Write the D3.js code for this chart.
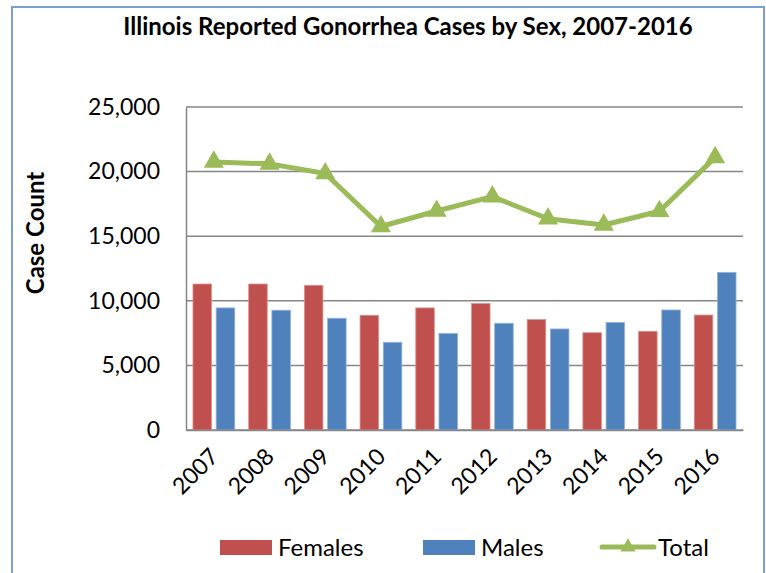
<!DOCTYPE html>
<html>
<head>
<meta charset="utf-8">
<script src="https://cdn.jsdelivr.net/npm/d3@7"></script>
<style>
  body { margin: 0; background: #fff; }
  text { font-family: Lato, "Open Sans", sans-serif; fill: #000; }
</style>
</head>
<body>
<div class="chart"></div>
<script>
// Chart data
const years = ['2007', '2008', '2009', '2010', '2011', '2012', '2013', '2014', '2015', '2016'];
const females = [11300, 11300, 11200, 8880, 9450, 9800, 8550, 7530, 7640, 8900];
const males = [9450, 9270, 8650, 6790, 7480, 8260, 7820, 8330, 9290, 12200];
const totals = [20750, 20600, 19850, 15750, 16950, 18060, 16350, 15870, 16930, 21100];
const yTicks = [0, 5000, 10000, 15000, 20000, 25000];
const seriesNames = ['Females', 'Males', 'Total'];

const colors = {Females: '#C0504D', Males: '#4F81BD', Total: '#9BBB59'};
const strokes = {Females: '#D99694', Males: '#95B3D7'};

function comboChart(selector, w, h) {

    const margin = {top: 107, right: 23, bottom: 143, left: 186},
        width = w - margin.left - margin.right,
        height = h - margin.top - margin.bottom;

    const svg = d3.select(`.${selector}`)
                .append('svg')
                    .attr('width', w)
                    .attr('height', h);

    // Outer frame
    svg.append('rect')
        .attr('x', 12).attr('y', 7)
        .attr('width', 752).attr('height', 580)
        .attr('fill', '#fff')
        .attr('stroke', '#7A9FD3')
        .attr('stroke-width', 2);

    // Title
    svg.append('text')
        .attr('x', 408).attr('y', 35)
        .attr('text-anchor', 'middle')
        .style('font-size', '24px')
        .style('font-weight', 'bold')
        .text('Illinois Reported Gonorrhea Cases by Sex, 2007-2016');

    const g = svg.append('g')
        .attr('transform', `translate(${margin.left},${margin.top})`);

    // Scales
    const x0 = d3.scaleBand().domain(years).range([0, width]);
    const x1 = d3.scaleBand().domain(['Females', 'Males'])
                .range([0, x0.bandwidth()])
                .paddingInner(0.2).paddingOuter(0.3);
    const y = d3.scaleLinear().domain([0, 25000]).range([height, 0]);

    // Gridlines
    g.append('g')
        .selectAll('line')
        .data(yTicks)
        .enter()
            .append('line')
            .attr('x1', 0).attr('x2', width)
            .attr('y1', d => y(d)).attr('y2', d => y(d))
            .attr('stroke', '#868686')
            .attr('stroke-width', 1.5);

    // Y axis
    const yAxis = g.append('g')
        .call(d3.axisLeft(y).tickValues(yTicks).tickSize(0).tickPadding(26)
                .tickFormat(d3.format(',')));
    yAxis.select('.domain').attr('stroke', '#868686').attr('stroke-width', 1.5);
    yAxis.selectAll('text')
        .style('font-size', '23px')
        .style('font-family', 'Lato, sans-serif');

    // Bars
    const rows = years.map((yr, i) => ({year: yr, Females: females[i], Males: males[i]}));
    g.append('g')
        .selectAll('g')
        .data(rows)
        .enter()
            .append('g')
            .attr('transform', d => `translate(${x0(d.year)},0)`)
            .selectAll('rect')
            .data(d => ['Females', 'Males'].map(k => ({key: k, value: d[k]})))
            .enter()
                .append('rect')
                .attr('x', d => x1(d.key))
                .attr('y', d => y(d.value))
                .attr('width', x1.bandwidth())
                .attr('height', d => height - y(d.value))
                .attr('fill', d => colors[d.key])
                .attr('stroke', d => strokes[d.key])
                .attr('stroke-width', 0.8);

    // X axis
    const xAxis = g.append('g')
        .attr('transform', `translate(0,${height})`)
        .call(d3.axisBottom(x0).tickSize(0).tickPadding(0));
    xAxis.select('.domain').attr('stroke', '#868686').attr('stroke-width', 1.5);
    xAxis.selectAll('text')
        .style('font-size', '23px')
        .style('font-family', 'Lato, sans-serif')
        .style('text-anchor', 'end')
        .attr('dy', 0)
        .attr('y', 0)
        .attr('transform', 'translate(6,28) rotate(-45)');

    // Total line
    const cx = yr => x0(yr) + x0.bandwidth() / 2;
    const line = d3.line()
        .x((d, i) => cx(years[i]))
        .y(d => y(d));
    g.append('path')
        .datum(totals)
        .attr('d', line)
        .attr('fill', 'none')
        .attr('stroke', colors.Total)
        .attr('stroke-width', 5)
        .attr('stroke-linejoin', 'round');

    const tri = d3.symbol().type(d3.symbolTriangle).size(175);
    g.append('g')
        .selectAll('path')
        .data(totals)
        .enter()
            .append('path')
            .attr('d', tri)
            .attr('transform', (d, i) => `translate(${cx(years[i])},${y(d)})`)
            .attr('fill', colors.Total);

    // Y label
    svg.append('text')
        .attr('transform', 'translate(44,233) rotate(-90)')
        .attr('text-anchor', 'middle')
        .style('font-size', '24px')
        .style('font-weight', 'bold')
        .text('Case Count');

    // Legend
    const legendX = [220, 423, 600];
    const legend = svg.append('g');
    seriesNames.forEach((name, i) => {
        const lx = legendX[i];
        if (name === 'Total') {
            legend.append('line')
                .attr('x1', lx + 2).attr('x2', lx + 54)
                .attr('y1', 547).attr('y2', 547)
                .attr('stroke', colors.Total)
                .attr('stroke-width', 5)
                .attr('stroke-linecap', 'round');
            legend.append('path')
                .attr('d', d3.symbol().type(d3.symbolTriangle).size(100))
                .attr('transform', `translate(${lx + 28},547)`)
                .attr('fill', colors.Total);
        } else {
            legend.append('rect')
                .attr('x', lx).attr('y', 540)
                .attr('width', 52).attr('height', 15)
                .attr('fill', colors[name]);
        }
        legend.append('text')
            .attr('x', lx + (name === 'Total' ? 58 : 58))
            .attr('y', 556)
            .style('font-size', '24px')
            .text(name);
    });
}

comboChart('chart', 766, 573);
</script>
</body>
</html>
